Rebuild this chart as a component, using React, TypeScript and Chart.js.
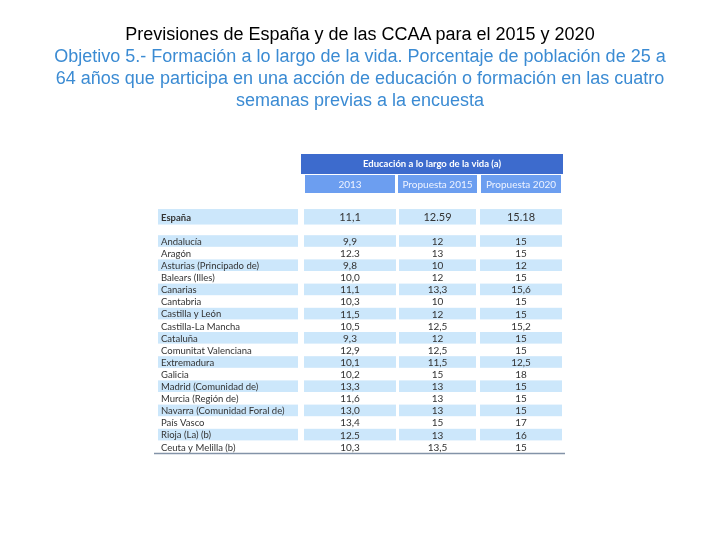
import React, { useEffect, useRef } from "react";
import { Chart, registerables } from "chart.js";

Chart.register(...registerables);

const titleLine = "Previsiones de España y de las CCAA para el 2015 y 2020";
const subtitleLines = [
  "Objetivo 5.- Formación a lo largo de la vida. Porcentaje de población de 25 a",
  "64 años que participa en una acción de educación o formación en las cuatro",
  "semanas previas a la encuesta",
];

const groupHeader = "Educación a lo largo de la vida (a)";
const columnHeaders = ["2013", "Propuesta 2015", "Propuesta 2020"];

const totalLabel = "España";
const totalValues = ["11,1", "12.59", "15.18"];

const regions = [
  "Andalucía",
  "Aragón",
  "Asturias (Principado de)",
  "Balears (Illes)",
  "Canarias",
  "Cantabria",
  "Castilla y León",
  "Castilla-La Mancha",
  "Cataluña",
  "Comunitat Valenciana",
  "Extremadura",
  "Galicia",
  "Madrid (Comunidad de)",
  "Murcia (Región de)",
  "Navarra (Comunidad Foral de)",
  "País Vasco",
  "Rioja (La) (b)",
  "Ceuta y Melilla (b)",
];
const values2013 = ["9,9", "12.3", "9,8", "10,0", "11,1", "10,3", "11,5", "10,5", "9,3", "12,9", "10,1", "10,2", "13,3", "11,6", "13,0", "13,4", "12.5", "10,3"];
const values2015 = ["12", "13", "10", "12", "13,3", "10", "12", "12,5", "12", "12,5", "11,5", "15", "13", "13", "13", "15", "13", "13,5"];
const values2020 = ["15", "15", "12", "15", "15,6", "15", "15", "15,2", "15", "15", "12,5", "18", "15", "15", "15", "17", "16", "15"];

const rowLabels = [totalLabel, "", ...regions];
const columns = [values2013, values2015, values2020];

const HEADER_DARK = "#3d6bcd";
const HEADER_LIGHT = "#6c9ef0";
const ROW_LIGHT = "#cce7fb";
const TEXT = "#333333";

const tablePlugin = {
  id: "tablePlugin",
  afterDraw(chart: any) {
    const ctx = chart.ctx as CanvasRenderingContext2D;
    const area = chart.chartArea;
    const y = chart.scales.y;
    const L = area.left;
    const rowH = (area.bottom - area.top) / rowLabels.length;
    const labelCell = [L + 1, L + 141];
    const valueCells = [
      [L + 147, L + 239],
      [L + 242, L + 319],
      [L + 323, L + 405],
    ];
    ctx.save();

    // group header
    ctx.fillStyle = HEADER_DARK;
    ctx.fillRect(L + 144, 154, 262, 20);
    ctx.fillStyle = "#ffffff";
    ctx.font = "bold 9.5px Lato";
    ctx.textAlign = "center";
    ctx.textBaseline = "middle";
    ctx.fillText(groupHeader, L + 275, 164);

    // column headers
    const subCells = [
      [L + 148, L + 238],
      [L + 241, L + 320],
      [L + 324, L + 404],
    ];
    subCells.forEach((c, i) => {
      ctx.fillStyle = HEADER_LIGHT;
      ctx.fillRect(c[0], 175, c[1] - c[0], 18);
      ctx.fillStyle = "#eef3ff";
      ctx.font = "10px Lato";
      ctx.fillText(columnHeaders[i], (c[0] + c[1]) / 2, 184.5);
    });

    rowLabels.forEach((label, r) => {
      if (label === "") return;
      const cy = y.getPixelForValue(r);
      const isTotal = r === 0;
      const regionIdx = r - 2;
      const shaded = isTotal || regionIdx % 2 === 0;
      const h = isTotal ? 16 : rowH;
      if (shaded) {
        ctx.fillStyle = ROW_LIGHT;
        ctx.fillRect(labelCell[0], cy - h / 2, labelCell[1] - labelCell[0], h - 0.5);
        valueCells.forEach((c) => ctx.fillRect(c[0], cy - h / 2, c[1] - c[0], h - 0.5));
      }
      ctx.fillStyle = TEXT;
      ctx.textAlign = "left";
      ctx.font = isTotal ? "bold 9.5px Lato" : "9.5px Lato";
      ctx.fillText(label, labelCell[0] + 3, cy + 0.5);
      ctx.textAlign = "center";
      ctx.font = isTotal ? "11px Lato" : "10px Lato";
      valueCells.forEach((c, ci) => {
        const v = isTotal ? totalValues[ci] : columns[ci][regionIdx];
        ctx.fillText(v, (c[0] + c[1]) / 2, cy + 0.5);
      });
    });

    // bottom rule
    ctx.strokeStyle = "#8393a8";
    ctx.lineWidth = 1.3;
    ctx.beginPath();
    ctx.moveTo(L - 3, area.bottom + 0.5);
    ctx.lineTo(area.right + 2, area.bottom + 0.5);
    ctx.stroke();
    ctx.restore();
  },
};

function TableChart() {
  const ref = useRef<HTMLCanvasElement>(null);
  useEffect(() => {
    if (!ref.current) return;
    const chart = new Chart(ref.current, {
      type: "bar",
      data: {
        labels: rowLabels,
        datasets: [{ data: rowLabels.map(() => null), backgroundColor: "transparent" }],
      },
      options: {
        indexAxis: "y",
        responsive: false,
        animation: false,
        layout: { padding: { left: 157, right: 157, top: 211, bottom: 87 } },
        plugins: { legend: { display: false }, tooltip: { enabled: false } },
        scales: {
          y: { type: "category", display: false, offset: true },
          x: { type: "linear", display: false, min: 0, max: 1 },
        },
      },
      plugins: [tablePlugin],
    });
    return () => chart.destroy();
  }, []);
  return <canvas ref={ref} width={720} height={540} style={{ position: "absolute", left: 0, top: 0 }} />;
}

export default function App() {
  return (
    <div style={{ position: "absolute", left: 0, top: 0, width: 720, height: 540, background: "#fff", overflow: "hidden" }}>
      <TableChart />
      <div
        style={{
          position: "absolute",
          left: 0,
          top: 23,
          width: 720,
          textAlign: "center",
          fontFamily: "'Liberation Sans', Arial, sans-serif",
          fontSize: 18,
          lineHeight: "22px",
          whiteSpace: "nowrap",
        }}
      >
        <div style={{ color: "#000" }}>{titleLine}</div>
        {subtitleLines.map((l, i) => (
          <div key={i} style={{ color: "#3b8bd3" }}>{l}</div>
        ))}
      </div>
    </div>
  );
}
